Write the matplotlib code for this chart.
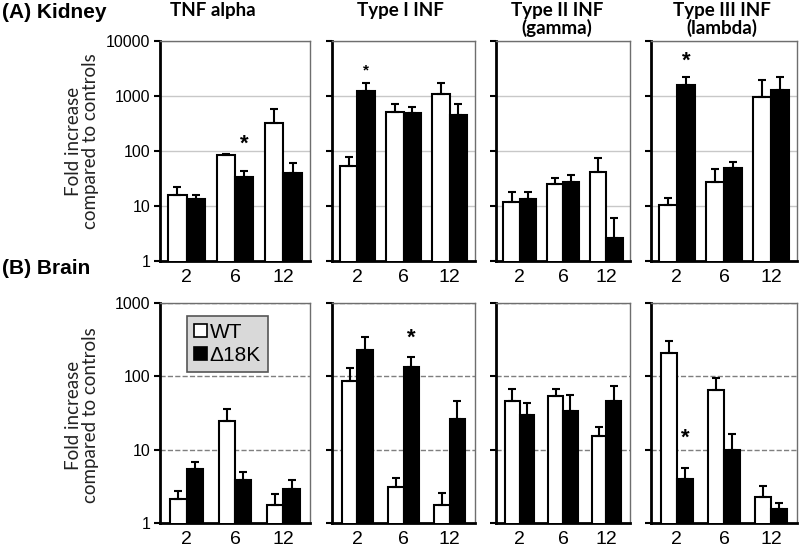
import matplotlib.pyplot as plt
from matplotlib.patches import Patch
import numpy as np

times = ['2', '6', '12']
titles = ['TNF alpha', 'Type I INF', 'Type II INF\n(gamma)', 'Type III INF\n(lambda)']

# kidney (A): mean and upper error, one row per cytokine
kid_wt = [[15.8, 84, 327], [53, 510, 1070], [11.7, 24.8, 41], [10.3, 27.7, 970]]
kid_wt_err = [[6, 6, 245], [26, 205, 630], [6.5, 8, 33], [3.7, 20, 990]]
kid_ko = [[13.4, 34, 40], [1230, 484, 450], [13.2, 27.6, 2.6], [1560, 49, 1290]]
kid_ko_err = [[2.4, 9, 21], [470, 136, 270], [5, 9.4, 3.4], [680, 15, 950]]

# brain (B)
brain_wt = [[2.12, 24.7, 1.76], [86.5, 3.07, 1.76], [46.6, 54, 15.4], [207, 65, 2.28]]
brain_wt_err = [[0.64, 10.9, 0.7], [42, 1.0, 0.83], [20, 13, 5.1], [101, 29, 0.92]]
brain_ko = [[5.4, 3.86, 2.88], [230, 135, 26.3], [29.7, 33.8, 46.6], [3.95, 9.9, 1.55]]
brain_ko_err = [[1.3, 1.14, 0.98], [118, 51, 20], [13, 22, 27], [1.6, 6.5, 0.31]]

# significance stars: (panel, time index, height)
kid_stars = [(0, 1, 134), (1, 0, 2960), (3, 0, 4330)]
brain_stars = [(1, 1, 333), (3, 0, 14.4)]

W, H = 800, 555
fig = plt.figure(figsize=(8, 5.55), dpi=100)

xpix = [(160, 310), (332, 475), (496, 630), (651, 797)]
rows = [(41, 261), (303, 523)]

def make_ax(x0, x1, y0, y1):
    return fig.add_axes([x0 / W, 1 - y1 / H, (x1 - x0) / W, (y1 - y0) / H])

def draw_row(r, wt, wt_err, ko, ko_err, stars, ymax, bw, grid_ls, grid_col):
    axes = []
    for i in range(4):
        ax = make_ax(xpix[i][0], xpix[i][1], rows[r][0], rows[r][1])
        x = np.arange(3)
        ax.set_yscale('log')
        ax.set_ylim(1, ymax)
        ax.set_xlim(-0.55, 2.55)
        ax.bar(x - bw / 2, wt[i], bw, color='white', edgecolor='black', lw=1.5, zorder=3)
        ax.bar(x + bw / 2, ko[i], bw, color='black', edgecolor='black', lw=1.5, zorder=3)
        ax.errorbar(x - bw / 2, wt[i], yerr=[np.zeros(3), wt_err[i]], fmt='none',
                    ecolor='black', elinewidth=1.5, capsize=3, capthick=1.5, zorder=4)
        ax.errorbar(x + bw / 2, ko[i], yerr=[np.zeros(3), ko_err[i]], fmt='none',
                    ecolor='black', elinewidth=1.5, capsize=3, capthick=1.5, zorder=4)
        decades = [10 ** k for k in range(int(np.log10(ymax)) + 1)]
        ax.set_yticks(decades)
        ax.yaxis.set_minor_locator(plt.NullLocator())
        for d in decades[1:]:
            ax.axhline(d, color=grid_col, lw=1, ls=grid_ls, zorder=1)
        if i == 0:
            ax.set_yticklabels([str(d) for d in decades], family='Liberation Sans', fontsize=11.5)
        else:
            ax.set_yticklabels([])
        ax.set_xticks(x)
        ax.set_xticklabels(times, family='Liberation Sans', fontsize=14)
        ax.tick_params(axis='x', length=0, pad=6)
        ax.tick_params(axis='y', direction='out', length=4, width=1.5, pad=3)
        for s in ['left', 'bottom']:
            ax.spines[s].set_linewidth(2)
            ax.spines[s].set_color('black')
        for s in ['top', 'right']:
            ax.spines[s].set_linewidth(1)
            ax.spines[s].set_color('#6e6e6e')
        axes.append(ax)
    for p, t, yv in stars:
        size = 11 if (r == 0 and p == 1) else 16
        axes[p].text(t + bw / 2, yv, '*', ha='center', va='center', fontsize=size,
                     fontweight='bold', family='Liberation Sans')
    return axes

top = draw_row(0, kid_wt, kid_wt_err, kid_ko, kid_ko_err, kid_stars, 10000, 0.38, '-', '#c8c8c8')
bot = draw_row(1, brain_wt, brain_wt_err, brain_ko, brain_ko_err, brain_stars, 1000, 0.34, '--', '#7f7f7f')

# legend
handles = [Patch(facecolor='white', edgecolor='black', lw=1.2, label='WT'),
           Patch(facecolor='black', edgecolor='black', lw=1.2, label='Δ18K')]
leg = bot[0].legend(handles=handles, loc='upper left', bbox_to_anchor=(0.11, 0.99),
                    frameon=True, fancybox=False, handlelength=0.6, handleheight=0.6,
                    handletextpad=0.15, borderpad=0.35, labelspacing=0.2,
                    prop={'family': 'Liberation Sans', 'size': 15})
leg.get_frame().set_facecolor('#d9d9d9')
leg.get_frame().set_edgecolor('#555555')
leg.get_frame().set_linewidth(1.2)
leg.get_frame().set_alpha(1)

# titles
title_x = [213, 400, 557, 722]
for tx, t in zip(title_x, titles):
    fig.text(tx / W, 1 - 2 / H, t, ha='center', va='top', fontsize=13.5,
             fontweight='bold', family='Lato', linespacing=1.0)

fig.text(2 / W, 1 - 13 / H, '(A) Kidney', ha='left', va='center', fontsize=15,
         fontweight='bold', family='Liberation Sans')
fig.text(2 / W, 1 - 268 / H, '(B) Brain', ha='left', va='center', fontsize=15,
         fontweight='bold', family='Liberation Sans')

for yc in [141, 415]:
    fig.text(82 / W, 1 - yc / H, 'Fold increase\ncompared to controls', rotation=90,
             ha='center', va='center', fontsize=13.5, family='Lato', color='#222222',
             linespacing=1.05)

fig.savefig('out.png', dpi=100)
